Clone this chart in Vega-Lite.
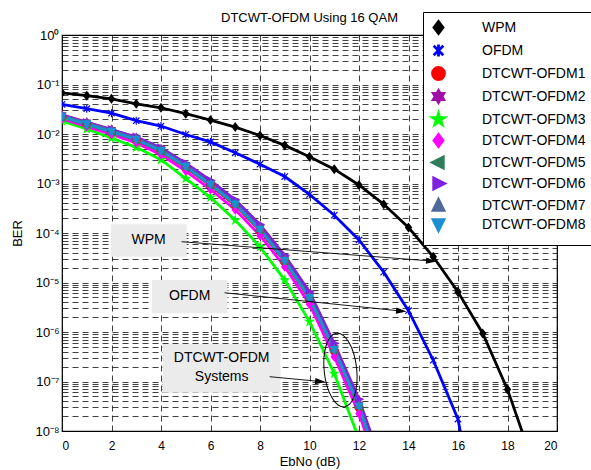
{
  "$schema": "https://vega.github.io/schema/vega-lite/v6.json",
  "width": 495,
  "height": 396,
  "autosize": {"type": "none"},
  "padding": {"left": 62, "top": 35, "right": 34, "bottom": 39},
  "background": "white",
  "title": {"text": "DTCWT-OFDM Using 16 QAM", "font": "Liberation Sans", "fontSize": 13, "fontWeight": "normal", "color": "black", "anchor": "middle", "frame": "group", "baseline": "alphabetic", "offset": -23},
  "config": {
    "view": {"stroke": "black", "strokeWidth": 1.2},
    "font": "Liberation Sans",
    "axis": {"labelFont": "Liberation Sans", "titleFont": "Liberation Sans", "labelColor": "black", "titleColor": "black", "titleFontWeight": "normal", "labelFontSize": 12, "titleFontSize": 13, "grid": true, "gridColor": "black", "gridDash": [6, 4], "gridOpacity": 0.75, "gridWidth": 1, "domain": false, "ticks": false, "labelOverlap": false},
    "legend": {"title": null, "orient": "none", "legendX": 361, "legendY": -23, "direction": "vertical",
      "fillColor": "white", "strokeColor": "black", "padding": 8,
      "labelFont": "Liberation Sans", "labelFontSize": 14, "labelColor": "black", "labelOffset": 36,
      "rowPadding": -2, "symbolSize": 144, "symbolStrokeWidth": 2.8, "symbolOpacity": 1}
  },
  "datasets": {
    "curves": [
      {"series": "WPM", "ebno": 0, "ber": 0.0676}, {"series": "WPM", "ebno": 1, "ber": 0.0594}, {"series": "WPM", "ebno": 2, "ber": 0.0513}, {"series": "WPM", "ebno": 3, "ber": 0.0407}, {"series": "WPM", "ebno": 4, "ber": 0.0339}, {"series": "WPM", "ebno": 5, "ber": 0.0257}, {"series": "WPM", "ebno": 6, "ber": 0.0191}, {"series": "WPM", "ebno": 7, "ber": 0.0138}, {"series": "WPM", "ebno": 8, "ber": 0.00933}, {"series": "WPM", "ebno": 9, "ber": 0.00589}, {"series": "WPM", "ebno": 10, "ber": 0.00347}, {"series": "WPM", "ebno": 11, "ber": 0.00195}, {"series": "WPM", "ebno": 12, "ber": 0.000933}, {"series": "WPM", "ebno": 13, "ber": 0.00038}, {"series": "WPM", "ebno": 14, "ber": 0.000129}, {"series": "WPM", "ebno": 15, "ber": 3.31e-5}, {"series": "WPM", "ebno": 16, "ber": 6.46e-6}, {"series": "WPM", "ebno": 17, "ber": 9.33e-7}, {"series": "WPM", "ebno": 18, "ber": 6.92e-8}, {"series": "WPM", "ebno": 19, "ber": 2.51e-9},
      {"series": "OFDM", "ebno": 0, "ber": 0.0398}, {"series": "OFDM", "ebno": 1, "ber": 0.0324}, {"series": "OFDM", "ebno": 2, "ber": 0.0263}, {"series": "OFDM", "ebno": 3, "ber": 0.0186}, {"series": "OFDM", "ebno": 4, "ber": 0.0145}, {"series": "OFDM", "ebno": 5, "ber": 0.00977}, {"series": "OFDM", "ebno": 6, "ber": 0.00692}, {"series": "OFDM", "ebno": 7, "ber": 0.00417}, {"series": "OFDM", "ebno": 8, "ber": 0.00245}, {"series": "OFDM", "ebno": 9, "ber": 0.00138}, {"series": "OFDM", "ebno": 10, "ber": 0.000603}, {"series": "OFDM", "ebno": 11, "ber": 0.000229}, {"series": "OFDM", "ebno": 12, "ber": 7.24e-5}, {"series": "OFDM", "ebno": 13, "ber": 1.62e-5}, {"series": "OFDM", "ebno": 14, "ber": 2.69e-6}, {"series": "OFDM", "ebno": 15, "ber": 2.69e-7}, {"series": "OFDM", "ebno": 16, "ber": 1.74e-8}, {"series": "OFDM", "ebno": 17, "ber": 3.16e-11},
      {"series": "DTCWT-OFDM1", "ebno": 0, "ber": 0.0214}, {"series": "DTCWT-OFDM1", "ebno": 1, "ber": 0.0151}, {"series": "DTCWT-OFDM1", "ebno": 2, "ber": 0.0107}, {"series": "DTCWT-OFDM1", "ebno": 3, "ber": 0.00741}, {"series": "DTCWT-OFDM1", "ebno": 4, "ber": 0.00437}, {"series": "DTCWT-OFDM1", "ebno": 5, "ber": 0.00209}, {"series": "DTCWT-OFDM1", "ebno": 6, "ber": 0.000912}, {"series": "DTCWT-OFDM1", "ebno": 7, "ber": 0.000363}, {"series": "DTCWT-OFDM1", "ebno": 8, "ber": 0.000112}, {"series": "DTCWT-OFDM1", "ebno": 9, "ber": 2.63e-5}, {"series": "DTCWT-OFDM1", "ebno": 10, "ber": 4.68e-6}, {"series": "DTCWT-OFDM1", "ebno": 11, "ber": 4.17e-7}, {"series": "DTCWT-OFDM1", "ebno": 12, "ber": 3.02e-8}, {"series": "DTCWT-OFDM1", "ebno": 13, "ber": 9.55e-10},
      {"series": "DTCWT-OFDM2", "ebno": 0, "ber": 0.0245}, {"series": "DTCWT-OFDM2", "ebno": 1, "ber": 0.0174}, {"series": "DTCWT-OFDM2", "ebno": 2, "ber": 0.0123}, {"series": "DTCWT-OFDM2", "ebno": 3, "ber": 0.00851}, {"series": "DTCWT-OFDM2", "ebno": 4, "ber": 0.00501}, {"series": "DTCWT-OFDM2", "ebno": 5, "ber": 0.0024}, {"series": "DTCWT-OFDM2", "ebno": 6, "ber": 0.00105}, {"series": "DTCWT-OFDM2", "ebno": 7, "ber": 0.000417}, {"series": "DTCWT-OFDM2", "ebno": 8, "ber": 0.000129}, {"series": "DTCWT-OFDM2", "ebno": 9, "ber": 3.02e-5}, {"series": "DTCWT-OFDM2", "ebno": 10, "ber": 5.37e-6}, {"series": "DTCWT-OFDM2", "ebno": 11, "ber": 4.79e-7}, {"series": "DTCWT-OFDM2", "ebno": 12, "ber": 3.47e-8}, {"series": "DTCWT-OFDM2", "ebno": 13, "ber": 1.1e-9},
      {"series": "DTCWT-OFDM3", "ebno": 0, "ber": 0.0182}, {"series": "DTCWT-OFDM3", "ebno": 1, "ber": 0.0126}, {"series": "DTCWT-OFDM3", "ebno": 2, "ber": 0.00832}, {"series": "DTCWT-OFDM3", "ebno": 3, "ber": 0.00537}, {"series": "DTCWT-OFDM3", "ebno": 4, "ber": 0.00302}, {"series": "DTCWT-OFDM3", "ebno": 5, "ber": 0.00126}, {"series": "DTCWT-OFDM3", "ebno": 6, "ber": 0.000525}, {"series": "DTCWT-OFDM3", "ebno": 7, "ber": 0.000182}, {"series": "DTCWT-OFDM3", "ebno": 8, "ber": 5.25e-5}, {"series": "DTCWT-OFDM3", "ebno": 9, "ber": 1.12e-5}, {"series": "DTCWT-OFDM3", "ebno": 10, "ber": 1.62e-6}, {"series": "DTCWT-OFDM3", "ebno": 11, "ber": 1.45e-7}, {"series": "DTCWT-OFDM3", "ebno": 12, "ber": 6.92e-9},
      {"series": "DTCWT-OFDM4", "ebno": 0, "ber": 0.0204}, {"series": "DTCWT-OFDM4", "ebno": 1, "ber": 0.0141}, {"series": "DTCWT-OFDM4", "ebno": 2, "ber": 0.00977}, {"series": "DTCWT-OFDM4", "ebno": 3, "ber": 0.00661}, {"series": "DTCWT-OFDM4", "ebno": 4, "ber": 0.0038}, {"series": "DTCWT-OFDM4", "ebno": 5, "ber": 0.00178}, {"series": "DTCWT-OFDM4", "ebno": 6, "ber": 0.000759}, {"series": "DTCWT-OFDM4", "ebno": 7, "ber": 0.000295}, {"series": "DTCWT-OFDM4", "ebno": 8, "ber": 8.91e-5}, {"series": "DTCWT-OFDM4", "ebno": 9, "ber": 2.09e-5}, {"series": "DTCWT-OFDM4", "ebno": 10, "ber": 3.63e-6}, {"series": "DTCWT-OFDM4", "ebno": 11, "ber": 3.16e-7}, {"series": "DTCWT-OFDM4", "ebno": 12, "ber": 2.24e-8}, {"series": "DTCWT-OFDM4", "ebno": 13, "ber": 7.94e-10},
      {"series": "DTCWT-OFDM5", "ebno": 0, "ber": 0.0219}, {"series": "DTCWT-OFDM5", "ebno": 1, "ber": 0.0155}, {"series": "DTCWT-OFDM5", "ebno": 2, "ber": 0.011}, {"series": "DTCWT-OFDM5", "ebno": 3, "ber": 0.00759}, {"series": "DTCWT-OFDM5", "ebno": 4, "ber": 0.00447}, {"series": "DTCWT-OFDM5", "ebno": 5, "ber": 0.00214}, {"series": "DTCWT-OFDM5", "ebno": 6, "ber": 0.000933}, {"series": "DTCWT-OFDM5", "ebno": 7, "ber": 0.000372}, {"series": "DTCWT-OFDM5", "ebno": 8, "ber": 0.000115}, {"series": "DTCWT-OFDM5", "ebno": 9, "ber": 2.69e-5}, {"series": "DTCWT-OFDM5", "ebno": 10, "ber": 4.79e-6}, {"series": "DTCWT-OFDM5", "ebno": 11, "ber": 4.27e-7}, {"series": "DTCWT-OFDM5", "ebno": 12, "ber": 3.09e-8}, {"series": "DTCWT-OFDM5", "ebno": 13, "ber": 9.77e-10},
      {"series": "DTCWT-OFDM6", "ebno": 0, "ber": 0.024}, {"series": "DTCWT-OFDM6", "ebno": 1, "ber": 0.017}, {"series": "DTCWT-OFDM6", "ebno": 2, "ber": 0.0123}, {"series": "DTCWT-OFDM6", "ebno": 3, "ber": 0.00871}, {"series": "DTCWT-OFDM6", "ebno": 4, "ber": 0.00525}, {"series": "DTCWT-OFDM6", "ebno": 5, "ber": 0.00257}, {"series": "DTCWT-OFDM6", "ebno": 6, "ber": 0.00115}, {"series": "DTCWT-OFDM6", "ebno": 7, "ber": 0.000468}, {"series": "DTCWT-OFDM6", "ebno": 8, "ber": 0.000148}, {"series": "DTCWT-OFDM6", "ebno": 9, "ber": 3.55e-5}, {"series": "DTCWT-OFDM6", "ebno": 10, "ber": 6.46e-6}, {"series": "DTCWT-OFDM6", "ebno": 11, "ber": 5.89e-7}, {"series": "DTCWT-OFDM6", "ebno": 12, "ber": 4.37e-8}, {"series": "DTCWT-OFDM6", "ebno": 13, "ber": 1.66e-9},
      {"series": "DTCWT-OFDM7", "ebno": 0, "ber": 0.0234}, {"series": "DTCWT-OFDM7", "ebno": 1, "ber": 0.0166}, {"series": "DTCWT-OFDM7", "ebno": 2, "ber": 0.0117}, {"series": "DTCWT-OFDM7", "ebno": 3, "ber": 0.00813}, {"series": "DTCWT-OFDM7", "ebno": 4, "ber": 0.00479}, {"series": "DTCWT-OFDM7", "ebno": 5, "ber": 0.00229}, {"series": "DTCWT-OFDM7", "ebno": 6, "ber": 0.001}, {"series": "DTCWT-OFDM7", "ebno": 7, "ber": 0.000398}, {"series": "DTCWT-OFDM7", "ebno": 8, "ber": 0.000123}, {"series": "DTCWT-OFDM7", "ebno": 9, "ber": 2.88e-5}, {"series": "DTCWT-OFDM7", "ebno": 10, "ber": 5.13e-6}, {"series": "DTCWT-OFDM7", "ebno": 11, "ber": 4.57e-7}, {"series": "DTCWT-OFDM7", "ebno": 12, "ber": 3.31e-8}, {"series": "DTCWT-OFDM7", "ebno": 13, "ber": 1.05e-9},
      {"series": "DTCWT-OFDM8", "ebno": 0, "ber": 0.0224}, {"series": "DTCWT-OFDM8", "ebno": 1, "ber": 0.0158}, {"series": "DTCWT-OFDM8", "ebno": 2, "ber": 0.0112}, {"series": "DTCWT-OFDM8", "ebno": 3, "ber": 0.00776}, {"series": "DTCWT-OFDM8", "ebno": 4, "ber": 0.00457}, {"series": "DTCWT-OFDM8", "ebno": 5, "ber": 0.00219}, {"series": "DTCWT-OFDM8", "ebno": 6, "ber": 0.000955}, {"series": "DTCWT-OFDM8", "ebno": 7, "ber": 0.00038}, {"series": "DTCWT-OFDM8", "ebno": 8, "ber": 0.000117}, {"series": "DTCWT-OFDM8", "ebno": 9, "ber": 2.75e-5}, {"series": "DTCWT-OFDM8", "ebno": 10, "ber": 4.9e-6}, {"series": "DTCWT-OFDM8", "ebno": 11, "ber": 4.37e-7}, {"series": "DTCWT-OFDM8", "ebno": 12, "ber": 3.16e-8}, {"series": "DTCWT-OFDM8", "ebno": 13, "ber": 1e-9}
    ],
    "boxes": [
      {"x1": 1.98, "x2": 5.04, "y1": 1.51e-4, "y2": 3.3e-5},
      {"x1": 3.63, "x2": 6.69, "y1": 1.12e-5, "y2": 2.4e-6},
      {"x1": 4.07, "x2": 8.83, "y1": 5.7e-7, "y2": 5.9e-8}
    ],
    "labels": [
      {"x": 3.5, "y": 7.2e-5, "label": "WPM"},
      {"x": 5.16, "y": 5.4e-6, "label": "OFDM"},
      {"x": 6.45, "y": 2.97e-7, "label": "DTCWT-OFDM"},
      {"x": 6.45, "y": 1.23e-7, "label": "Systems"}
    ],
    "arrows": [
      {"x1": 4.83, "y1": 6.67e-5, "x2": 14.92, "y2": 2.72e-5},
      {"x1": 6.57, "y1": 6.2e-6, "x2": 13.71, "y2": 2.65e-6},
      {"x1": 8.39, "y1": 1.25e-7, "x2": 10.44, "y2": 1.0e-7}
    ],
    "ellipse": [{"x": 11.25, "y": 1.7e-7}]
  },
  "layer": [
    {
      "data": {"name": "curves"},
      "mark": {"type": "line", "strokeWidth": 2.8, "clip": true},
      "encoding": {
        "x": {"field": "ebno", "type": "quantitative", "title": "EbNo (dB)", "scale": {"domain": [0, 20], "nice": false, "zero": false},
          "axis": {"values": [0, 2, 4, 6, 8, 10, 12, 14, 16, 18, 20], "format": "d", "labelPadding": 9, "titlePadding": 4}},
        "y": {"field": "ber", "type": "quantitative", "title": "BER", "scale": {"type": "log", "domain": [1e-8, 1], "nice": false},
          "axis": {"values": [1e-8, 2e-8, 3e-8, 4e-8, 5e-8, 6e-8, 7e-8, 8e-8, 9e-8, 1e-7, 2e-7, 3e-7, 4e-7, 5e-7, 6e-7, 7e-7, 8e-7, 9e-7, 1e-6, 2e-6, 3e-6, 4e-6, 5e-6, 6e-6, 7e-6, 8e-6, 9e-6, 1e-5, 2e-5, 3e-5, 4e-5, 5e-5, 6e-5, 7e-5, 8e-5, 9e-5, 1e-4, 2e-4, 3e-4, 4e-4, 5e-4, 6e-4, 7e-4, 8e-4, 9e-4, 1e-3, 2e-3, 3e-3, 4e-3, 5e-3, 6e-3, 7e-3, 8e-3, 9e-3, 1e-2, 2e-2, 3e-2, 4e-2, 5e-2, 6e-2, 7e-2, 8e-2, 9e-2, 0.1, 0.2, 0.3, 0.4, 0.5, 0.6, 0.7, 0.8, 0.9, 1],
            "labelExpr": "abs(log(datum.value)/LN10 - round(log(datum.value)/LN10)) < 0.001 ? '10' + ['⁰','⁻¹','⁻²','⁻³','⁻⁴','⁻⁵','⁻⁶','⁻⁷','⁻⁸'][-round(log(datum.value)/LN10)] : ''",
            "labelPadding": 3, "titlePadding": 10, "labelFontSize": 13}},
        "stroke": {"field": "series", "type": "nominal",
          "scale": {"domain": ["WPM", "OFDM", "DTCWT-OFDM1", "DTCWT-OFDM2", "DTCWT-OFDM3", "DTCWT-OFDM4", "DTCWT-OFDM5", "DTCWT-OFDM6", "DTCWT-OFDM7", "DTCWT-OFDM8"],
            "range": ["#000000", "#0000ff", "#ff0000", "#a010a8", "#00ff00", "#ff00ff", "#2e7d5a", "#8020e0", "#4f6a9a", "#1c8fd0"]}}
      }
    },
    {
      "data": {"name": "curves"},
      "mark": {"type": "point", "filled": true, "size": 64, "strokeWidth": 1.2, "opacity": 1, "clip": true},
      "encoding": {
        "x": {"field": "ebno", "type": "quantitative", "title": "EbNo (dB)"},
        "y": {"field": "ber", "type": "quantitative", "title": "BER"},
        "color": {"field": "series", "type": "nominal",
          "scale": {"domain": ["WPM", "OFDM", "DTCWT-OFDM1", "DTCWT-OFDM2", "DTCWT-OFDM3", "DTCWT-OFDM4", "DTCWT-OFDM5", "DTCWT-OFDM6", "DTCWT-OFDM7", "DTCWT-OFDM8"],
            "range": ["#000000", "#0000ff", "#ff0000", "#a010a8", "#00ff00", "#ff00ff", "#2e7d5a", "#8020e0", "#4f6a9a", "#1c8fd0"]}},
        "stroke": {"field": "series", "type": "nominal"},
        "shape": {"field": "series", "type": "nominal",
          "scale": {"domain": ["WPM", "OFDM", "DTCWT-OFDM1", "DTCWT-OFDM2", "DTCWT-OFDM3", "DTCWT-OFDM4", "DTCWT-OFDM5", "DTCWT-OFDM6", "DTCWT-OFDM7", "DTCWT-OFDM8"],
            "range": [
              "M0,-1L0.75,0L0,1L-0.75,0Z",
              "M-0.8,-0.8L0.8,0.8M0.8,-0.8L-0.8,0.8M0,-1L0,1",
              "M1,0C1,0.552 0.552,1 0,1C-0.552,1 -1,0.552 -1,0C-1,-0.552 -0.552,-1 0,-1C0.552,-1 1,-0.552 1,0Z",
              "M0,-1L0.866,0.5L-0.866,0.5ZM0,1L-0.866,-0.5L0.866,-0.5Z",
              "M0,-1L0.225,-0.309L0.951,-0.309L0.363,0.118L0.588,0.809L0,0.382L-0.588,0.809L-0.363,0.118L-0.951,-0.309L-0.225,-0.309Z",
              "M0,-1L0.75,0L0,1L-0.75,0Z",
              "M-1,0L0.8,-0.9L0.8,0.9Z",
              "M1,0L-0.8,-0.9L-0.8,0.9Z",
              "M0,-1L0.9,0.8L-0.9,0.8Z",
              "M0,1L0.9,-0.8L-0.9,-0.8Z"
            ]}}
      }
    },
    {
      "data": {"name": "boxes"},
      "mark": {"type": "rect", "fill": "#ebebeb"},
      "encoding": {
        "x": {"field": "x1", "type": "quantitative", "title": "EbNo (dB)"},
        "x2": {"field": "x2"},
        "y": {"field": "y1", "type": "quantitative", "title": "BER"},
        "y2": {"field": "y2"}
      }
    },
    {
      "data": {"name": "arrows"},
      "mark": {"type": "rule", "color": "black", "strokeWidth": 0.9},
      "encoding": {
        "x": {"field": "x1", "type": "quantitative", "title": "EbNo (dB)"},
        "x2": {"field": "x2"},
        "y": {"field": "y1", "type": "quantitative", "title": "BER"},
        "y2": {"field": "y2"}
      }
    },
    {
      "data": {"name": "arrows"},
      "mark": {"type": "point", "shape": "M1,0L-1,-0.6L-1,0.6Z", "filled": true, "color": "black", "opacity": 1, "size": 110, "angle": 5},
      "encoding": {
        "x": {"field": "x2", "type": "quantitative", "title": "EbNo (dB)"},
        "y": {"field": "y2", "type": "quantitative", "title": "BER"}
      }
    },
    {
      "data": {"name": "labels"},
      "mark": {"type": "text", "font": "Liberation Sans", "fontSize": 14, "color": "black", "align": "center", "baseline": "middle"},
      "encoding": {
        "x": {"field": "x", "type": "quantitative", "title": "EbNo (dB)"},
        "y": {"field": "y", "type": "quantitative", "title": "BER"},
        "text": {"field": "label"}
      }
    },
    {
      "data": {"name": "ellipse"},
      "mark": {"type": "point", "shape": "M0,-1A0.44,1 0 1,1 0,1A0.44,1 0 1,1 0,-1Z", "filled": false, "stroke": "black", "strokeWidth": 1, "opacity": 1, "size": 5476, "angle": -6},
      "encoding": {
        "x": {"field": "x", "type": "quantitative", "title": "EbNo (dB)"},
        "y": {"field": "y", "type": "quantitative", "title": "BER"}
      }
    }
  ]
}
